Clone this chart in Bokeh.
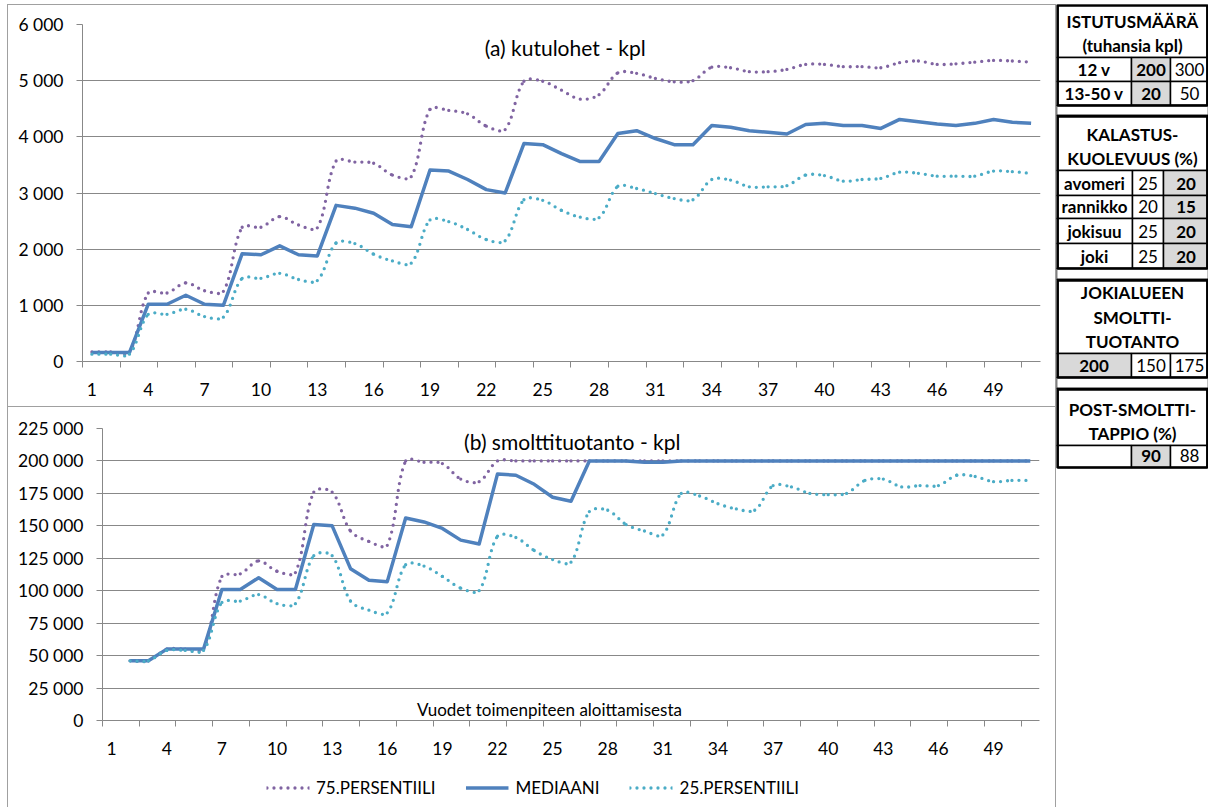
from bokeh.plotting import figure
from bokeh.models import (Range1d, FixedTicker, Label, Legend, LegendItem,
                          CustomJSTickFormatter, Plot)
from bokeh.layouts import row, column
from bokeh.embed import file_html
from bokeh.resources import INLINE
from bokeh.core.properties import value
import math

# ---------------- data ----------------
years_top = list(range(1, 52))
years_bottom = list(range(2, 52))
x_tick_labels = list(range(1, 50, 3))

kutu_p75 = [170, 170, 170, 1220, 1220, 1400, 1260, 1250, 2390, 2390, 2580, 2430, 2380,
            3570, 3550, 3530, 3320, 3290, 4490, 4470, 4410, 4190, 4130, 4990, 4990, 4830,
            4670, 4750, 5140, 5130, 5040, 4980, 5000, 5240, 5230, 5160, 5160, 5200, 5290,
            5290, 5250, 5250, 5230, 5320, 5350, 5290, 5300, 5330, 5360, 5350, 5330]
kutu_med = [160, 160, 160, 1020, 1020, 1180, 1020, 1000, 1920, 1900, 2060, 1900, 1880,
            2780, 2730, 2640, 2440, 2400, 3410, 3390, 3240, 3060, 3000, 3880, 3860, 3700,
            3560, 3560, 4060, 4110, 3970, 3860, 3860, 4200, 4170, 4110, 4080, 4050, 4220,
            4240, 4200, 4200, 4150, 4310, 4270, 4230, 4200, 4240, 4310, 4260, 4240]
kutu_p25 = [130, 130, 130, 840, 840, 930, 800, 790, 1480, 1480, 1570, 1460, 1440,
            2110, 2100, 1910, 1790, 1750, 2520, 2490, 2350, 2170, 2150, 2880, 2870, 2690,
            2570, 2560, 3120, 3080, 2990, 2900, 2880, 3240, 3230, 3110, 3110, 3130, 3320,
            3310, 3210, 3240, 3260, 3370, 3350, 3300, 3300, 3300, 3390, 3380, 3350]

smolt_p75 = [46000, 46000, 55000, 55000, 55000, 111000, 113000, 123000, 115000, 114000,
             176000, 176000, 146000, 138000, 135000, 200000, 199000, 198000, 186000, 184000,
             200000, 200000, 200000, 200000, 200000, 200000, 200000, 200000, 200000, 200000,
             200000, 200000, 200000, 200000, 200000, 200000, 200000, 200000, 200000, 200000,
             200000, 200000, 200000, 200000, 200000, 200000, 200000, 200000, 200000, 200000]
smolt_med = [46000, 46000, 55000, 55000, 55000, 101000, 101000, 110000, 101000, 101000,
             151000, 150000, 117000, 108000, 107000, 156000, 153000, 148000, 139000, 136000,
             190000, 189000, 182000, 172000, 169000, 200000, 200000, 200000, 199000, 199000,
             200000, 200000, 200000, 200000, 200000, 200000, 200000, 200000, 200000, 200000,
             200000, 200000, 200000, 200000, 200000, 200000, 200000, 200000, 200000, 200000]
smolt_p25 = [46000, 46000, 54000, 54000, 54000, 91000, 92000, 97000, 90000, 90000,
             127000, 127000, 92000, 85000, 83000, 120000, 119000, 111000, 102000, 100000,
             142000, 141000, 131000, 124000, 122000, 161000, 162000, 151000, 146000, 143000,
             175000, 173000, 167000, 163000, 162000, 181000, 180000, 175000, 174000, 175000,
             185000, 186000, 180000, 181000, 181000, 189000, 188000, 184000, 185000, 185000]

series_names = ["75.PERSENTIILI", "MEDIAANI", "25.PERSENTIILI"]
title_top = "(a) kutulohet - kpl"
title_bottom = "(b) smolttituotanto - kpl"
x_title = "Vuodet toimenpiteen aloittamisesta"

# table contents
hdr_istutus = ["ISTUTUSMÄÄRÄ", "(tuhansia kpl)"]
istutus_rows = ["12 v", "13-50 v"]
istutus_vals = [["200", "300"], ["20", "50"]]
istutus_sel = 0
hdr_kalastus = ["KALASTUS-", "KUOLEVUUS (%)"]
kalastus_rows = ["avomeri", "rannikko", "jokisuu", "joki"]
kalastus_vals = [["25", "20"], ["20", "15"], ["25", "20"], ["25", "20"]]
kalastus_sel = 1
hdr_smoltti = ["JOKIALUEEN", "SMOLTTI-", "TUOTANTO"]
smoltti_vals = ["200", "150", "175"]
smoltti_sel = 0
hdr_tappio = ["POST-SMOLTTI-", "TAPPIO (%)"]
tappio_vals = ["", "90", "88"]
tappio_sel = 1

# ---------------- style ----------------
FONT = "Lato"
C75, CMED, C25 = "#8064A2", "#4F81BD", "#4BACC6"
GRID = "#888888"
FRAME = "#a0a0a0"
SIDE_BORDERS = {"border-left": "1px solid " + FRAME, "border-right": "1px solid " + FRAME}

fmt = CustomJSTickFormatter(code="return tick.toFixed(0).replace(/\\B(?=(\\d{3})+(?!\\d))/g, ' ');")
FA = dict(frame_align=False) if "frame_align" in Plot.properties() else {}

STY75 = dict(line_color=C75, line_width=3.3, line_dash="0 7", line_cap="round")
STYMED = dict(line_color=CMED, line_width=3.5, line_join="round")
STY25 = dict(line_color=C25, line_width=3.3, line_dash="0 7", line_cap="round")


def make_chart(w, h, bl, br, bt, bb, ymax, ystep):
    p = figure(width=w, height=h, x_range=Range1d(0.5, 51.5), y_range=Range1d(0, ymax),
               output_backend="svg", toolbar_location=None,
               min_border_left=bl, min_border_right=br, min_border_top=bt, min_border_bottom=bb,
               **FA)
    p.outline_line_color = None
    p.background_fill_color = "white"
    p.border_fill_color = "white"
    p.xgrid.visible = False
    yt = list(range(0, ymax + 1, ystep))
    p.yaxis.ticker = FixedTicker(ticks=yt)
    p.yaxis.formatter = fmt
    p.ygrid.grid_line_color = GRID
    p.ygrid.grid_line_width = 1
    for ax in (p.xaxis, p.yaxis):
        ax.axis_line_color = GRID
        ax.major_tick_line_color = GRID
        ax.minor_tick_line_color = GRID
        ax.major_label_text_font = FONT
        ax.major_label_text_font_size = "17.5px"
        ax.major_label_text_color = "black"
    p.yaxis.major_tick_out = 6
    p.yaxis.major_tick_in = 0
    p.yaxis.minor_tick_out = 0
    p.yaxis.minor_tick_in = 0
    p.yaxis.major_label_standoff = 13
    minor = [k + 0.5 for k in range(0, 51, 2)]
    p.xaxis.ticker = FixedTicker(ticks=x_tick_labels, minor_ticks=minor)
    p.xaxis.major_tick_out = 0
    p.xaxis.major_tick_in = 0
    p.xaxis.minor_tick_out = 6
    p.xaxis.minor_tick_in = 0
    p.xaxis.major_label_standoff = 15
    return p


def smooth(p, xs, ys, sty, sx, sy):
    """Excel-like smoothed line: one cubic Bezier per interval, tangents from the
    neighbouring points, arm lengths weighted by on-screen segment lengths."""
    n = len(xs)

    def dist(i, j):
        return math.hypot((xs[j] - xs[i]) * sx, (ys[j] - ys[i]) * sy)

    x0, y0, x1, y1, cx0, cy0, cx1, cy1 = [], [], [], [], [], [], [], []
    for i in range(n - 1):
        a = max(i - 1, 0)
        d = min(i + 2, n - 1)
        d01, d12, d23 = dist(a, i), dist(i, i + 1), dist(i + 1, d)
        f1 = (d12 / (d01 + d12) if d01 + d12 > 0 else 0.5) / 3.0
        f2 = (d12 / (d12 + d23) if d12 + d23 > 0 else 0.5) / 3.0
        x0.append(xs[i]); y0.append(ys[i]); x1.append(xs[i + 1]); y1.append(ys[i + 1])
        cx0.append(xs[i] + (xs[i + 1] - xs[a]) * f1)
        cy0.append(ys[i] + (ys[i + 1] - ys[a]) * f1)
        cx1.append(xs[i + 1] - (xs[d] - xs[i]) * f2)
        cy1.append(ys[i + 1] - (ys[d] - ys[i]) * f2)
    return p.bezier(x0=x0, y0=y0, x1=x1, y1=y1, cx0=cx0, cy0=cy0, cx1=cx1, cy1=cy1, **sty)


def add_series(p, xs, y75, ymed, y25, sx, sy):
    smooth(p, xs, y75, STY75, sx, sy)
    p.line(xs, ymed, **STYMED)
    smooth(p, xs, y25, STY25, sx, sy)


# top chart  (frame 958 x 337 px)
pt = make_chart(1049, 403, 74, 17, 19, 47, 6000, 1000)
add_series(pt, years_top, kutu_p75, kutu_med, kutu_p25, 958 / 51, 337 / 6000)
pt.add_layout(Label(x=26.2, y=5590, text=title_top, text_align="center", text_baseline="middle",
                    text_font=FONT, text_font_size="21px", text_color="black"))
pt.styles = {"border": "1px solid " + FRAME}

# bottom chart  (frame 937 x 292 px)
pb = make_chart(1049, 360, 94, 18, 21, 47, 225000, 25000)
add_series(pb, years_bottom, smolt_p75, smolt_med, smolt_p25, 937 / 51, 292 / 225000)
pb.add_layout(Label(x=24.83, y=700, text=x_title, text_align="center", text_baseline="bottom",
                    text_font=FONT, text_font_size="17px", text_color="black"))
pb.add_layout(Label(x=26.07, y=215000, text=title_bottom, text_align="center", text_baseline="middle",
                    text_font=FONT, text_font_size="21px", text_color="black"))
pb.styles = dict(SIDE_BORDERS)

# legend strip (part of the bottom chart's area); its line renderers hold the
# bottom-chart series but lie outside this strip's range, so only the legend shows
pl = figure(width=1049, height=40, x_range=Range1d(-2, -1), y_range=Range1d(0, 1),
            output_backend="svg", toolbar_location=None, min_border=0,
            x_axis_location=None, y_axis_location=None, **FA)
pl.grid.visible = False
pl.outline_line_color = None
pl.background_fill_color = "white"
pl.border_fill_color = "white"
l75 = pl.line(years_bottom, smolt_p75, **STY75)
lmed = pl.line(years_bottom, smolt_med, **STYMED)
l25 = pl.line(years_bottom, smolt_p25, **STY25)
legend = Legend(items=[LegendItem(label=series_names[0], renderers=[l75]),
                       LegendItem(label=series_names[1], renderers=[lmed]),
                       LegendItem(label=series_names[2], renderers=[l25])],
                orientation="horizontal", location="center",
                glyph_width=43, glyph_height=20, label_height=20, label_standoff=7, spacing=30,
                padding=0, margin=0, border_line_color=None, background_fill_alpha=0,
                label_text_font=FONT, label_text_font_size="17px", label_text_color="black")
pl.add_layout(legend)
pl.styles = dict(SIDE_BORDERS)

# ---------------- table ----------------
TW, TH = 152, 803
tb = figure(width=TW, height=TH, x_range=Range1d(0, TW), y_range=Range1d(TH, 0),
            output_backend="svg", toolbar_location=None, min_border=0,
            x_axis_location=None, y_axis_location=None)
tb.grid.visible = False
tb.outline_line_color = None
tb.background_fill_color = "white"
tb.border_fill_color = "white"

colsA = [0, 75, 114, TW]
colsB = [0, 76, 107, TW]
cl, cr, ct, cbm, cf = [], [], [], [], []
blocks = []
bold_x, bold_y, bold_t = [], [], []
norm_x, norm_y, norm_t = [], [], []
LINE = 24.5


def cell(l, r, t, b, fill="white"):
    cl.append(l); cr.append(r); ct.append(t); cbm.append(b); cf.append(fill)


def header(lines, t, b):
    cell(0, TW, t, b)
    n = len(lines)
    for i, s in enumerate(lines):
        bold_x.append(TW / 2); bold_y.append(b - 12 - (n - 1 - i) * LINE); bold_t.append(s)


def data_row(cols, t, b, items, sel, first_bold):
    for j, s in enumerate(items):
        l, r = cols[j], cols[j + 1]
        gray = (j == sel)
        cell(l, r, t, b, "#d9d9d9" if gray else "white")
        if s == "":
            continue
        if gray or (j == 0 and first_bold):
            bold_x.append((l + r) / 2); bold_y.append(b - 12); bold_t.append(s)
        else:
            norm_x.append((l + r) / 2); norm_y.append(b - 12); norm_t.append(s)


# block 1
header(hdr_istutus, 0, 53)
y = 53
for name, vals in zip(istutus_rows, istutus_vals):
    data_row(colsA, y, y + 24, [name] + vals, istutus_sel + 1, True)
    y += 24
blocks.append((0, y))
cell(0, TW, y, y + 10)
y += 10
# block 2
b2 = y
header(hdr_kalastus, y, y + 55)
y += 55
rh = [25, 23, 25, 25]
for name, vals, hh in zip(kalastus_rows, kalastus_vals, rh):
    data_row(colsB, y, y + hh, [name] + vals, kalastus_sel + 1, True)
    y += hh
blocks.append((b2, y))
cell(0, TW, y, y + 11)
y += 11
# block 3
b3 = y
header(hdr_smoltti, y, y + 74)
y += 74
data_row(colsA, y, y + 24, smoltti_vals, smoltti_sel, False)
y += 24
blocks.append((b3, y))
cell(0, TW, y, y + 11)
y += 11
# block 4
b4 = y
header(hdr_tappio, y, y + 57)
y += 57
data_row(colsA, y, y + 22, tappio_vals, tappio_sel, False)
y += 22
blocks.append((b4, y))

tb.quad(left=cl, right=cr, top=ct, bottom=cbm, fill_color=cf, line_color="black", line_width=1.5)
tb.quad(left=[1.2] * len(blocks), right=[TW - 1.2] * len(blocks),
        top=[b[0] + 1 for b in blocks], bottom=[b[1] for b in blocks],
        fill_color=None, line_color="black", line_width=2.5)
tb.text(bold_x, bold_y, text=bold_t, text_font=value(FONT), text_font_style="bold",
        text_font_size="17px", text_align="center", text_baseline="middle", text_color="black")
tb.text(norm_x, norm_y, text=norm_t, text_font=value(FONT),
        text_font_size="17px", text_align="center", text_baseline="middle", text_color="black")

layout = row(column(pt, pb, pl, spacing=0), tb, spacing=0)
layout.margin = (4, 0, 0, 7)
open("out.html", "w").write(file_html(layout, INLINE))
